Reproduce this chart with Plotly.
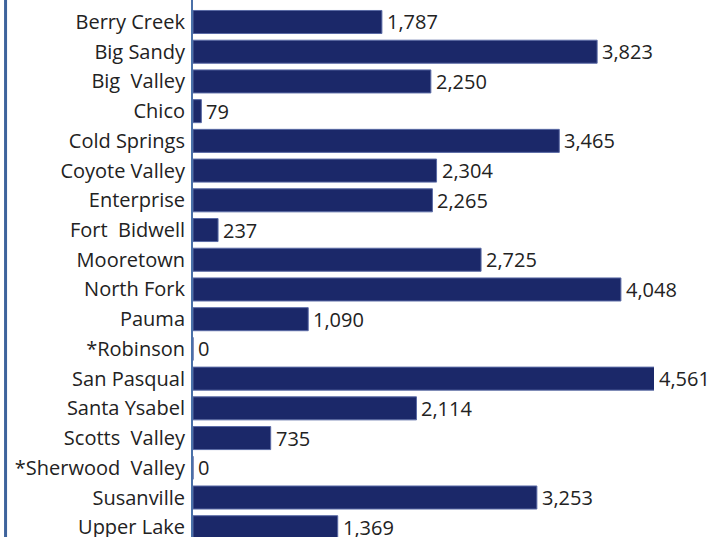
import plotly.graph_objects as go

categories = ["Berry Creek", "Big Sandy", "Big  Valley", "Chico", "Cold Springs",
              "Coyote Valley", "Enterprise", "Fort  Bidwell", "Mooretown", "North Fork",
              "Pauma", "*Robinson", "San Pasqual", "Santa Ysabel", "Scotts  Valley",
              "*Sherwood  Valley", "Susanville", "Upper Lake"]
values = [1787, 3823, 2250, 79, 3465, 2304, 2265, 237, 2725, 4048,
          1090, 0, 4561, 2114, 735, 0, 3253, 1369]

X_MAX = 4361  # axis maximum of the original chart (longest bar is clipped)

FONT = "Open Sans"
FSIZE = 20
TXT = "#222222"

fig = go.Figure()
fig.add_trace(go.Bar(
    x=values, y=categories, orientation="h",
    marker=dict(color="#1b2869", line=dict(color="#5a6aa5", width=1)),
    cliponaxis=True, hoverinfo="skip",
))

for c, v in zip(categories, values):
    fig.add_annotation(x=min(v, X_MAX), y=c, text=f"{v:,}", xanchor="left",
                       yanchor="middle", xshift=3, showarrow=False,
                       font=dict(family=FONT, size=FSIZE, color=TXT))

# left frame border of the original graphic
fig.add_shape(type="line", xref="paper", yref="paper", x0=-0.4066, x1=-0.4066,
              y0=0, y1=1, line=dict(color="#3e639c", width=3))

fig.update_layout(
    width=710, height=545,
    margin=dict(l=193, r=56, t=0, b=0),
    paper_bgcolor="white", plot_bgcolor="white",
    bargap=0.225, showlegend=False,
    font=dict(family=FONT, size=FSIZE, color=TXT),
    xaxis=dict(range=[0, X_MAX], visible=False, fixedrange=True),
    yaxis=dict(type="category", categoryorder="array", categoryarray=categories,
               range=[17.598, -0.74], showline=True, linecolor="#4a70a8", linewidth=2,
               ticks="", showgrid=False, tickfont=dict(family=FONT, size=FSIZE, color=TXT),
               ticklabelstandoff=2, fixedrange=True),
)

fig.write_html("out.html", config={"displayModeBar": False},
               post_script="document.body.style.margin='0';document.body.style.overflow='hidden';")
